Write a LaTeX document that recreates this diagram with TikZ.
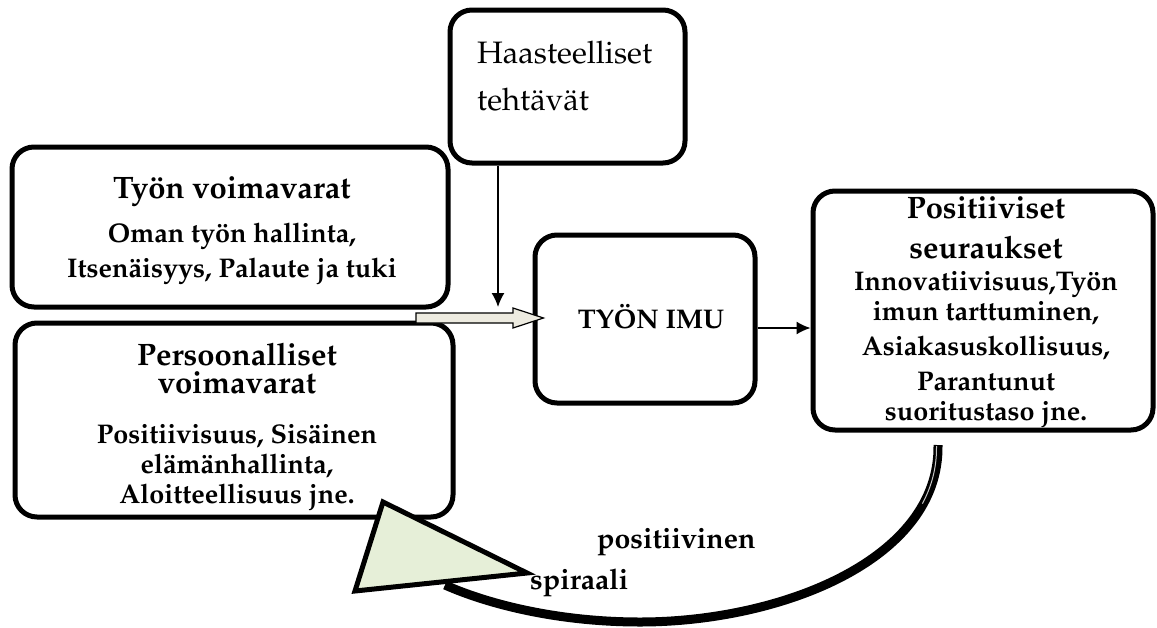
\documentclass[tikz,border=0pt]{standalone}
\usepackage[T1]{fontenc}
\usepackage{mathpazo}
\usetikzlibrary{arrows.meta}
\definecolor{blockfill}{HTML}{EDEBE0}
\definecolor{loopfill}{HTML}{E6EFD8}
\tikzset{
  box/.style={draw, line width=5pt, rounded corners=22pt, fill=white, inner sep=0pt},
  ttl/.style={font=\fontsize{31}{31}\selectfont\bfseries, anchor=base, inner sep=0pt},
  sub/.style={font=\fontsize{27}{27}\selectfont\bfseries, anchor=base, inner sep=0pt},
  plain/.style={font=\fontsize{31}{31}\selectfont, anchor=base west, inner sep=0pt},
  loopword/.style={font=\fontsize{28.5}{28.5}\selectfont\bfseries, anchor=base west, inner sep=0pt},
  thinarrow/.style={line width=1.5pt, -{Latex[length=14pt,width=13pt]}},
}
\begin{document}
\begin{tikzpicture}[x=1pt,y=-1pt]
\useasboundingbox (0,0) rectangle (1157,627);

% boxes
\node[box, minimum width=235pt, minimum height=153pt] (haaste) at (567.5,86.5) {};
\node[box, minimum width=436pt, minimum height=160pt] (tyon) at (230,227) {};
\node[box, minimum width=438pt, minimum height=194pt] (pers) at (234,420) {};
\node[box, minimum width=220pt, minimum height=168pt] (imu) at (645,319) {};
\node[box, minimum width=340pt, minimum height=239pt] (pos) at (983,310.5) {};

% texts
\node[plain] (h1) at (477,63) {Haasteelliset};
\node[plain] (h2) at (477,110) {tehtävät};

\node[ttl] (t1) at (232,198) {Työn voimavarat};
\node[sub] (t2) at (232,242) {Oman työn hallinta,};
\node[sub] (t3) at (232,277) {Itsenäisyys, Palaute ja tuki};

\node[ttl] (p1) at (237,365) {Persoonalliset};
\node[ttl] (p2) at (237,393) {voimavarat};
\node[sub] (p3) at (237,443) {Positiivisuus, Sisäinen};
\node[sub] (p4) at (237,473) {elämänhallinta,};
\node[sub] (p5) at (237,503) {Aloitteellisuus jne.};

\node[font=\fontsize{27}{27}\selectfont\bfseries, anchor=base, inner sep=0pt] (i1) at (651,328) {TYÖN IMU};

\node[ttl] (s1) at (986,218) {Positiiviset};
\node[ttl] (s2) at (986,258) {seuraukset};
\node[sub] (s3) at (986,290) {Innovatiivisuus,Työn};
\node[sub] (s4) at (986,320) {imun tarttuminen,};
\node[sub] (s5) at (986,355) {Asiakasuskollisuus,};
\node[sub] (s6) at (986,390) {Parantunut};
\node[sub] (s7) at (986,420) {suoritustaso jne.};

\node[loopword] (l1) at (597,548) {positiivinen};
\node[loopword] (l2) at (530,589) {spiraali};

% connectors
\coordinate (vtip) at (498,307);
\draw[thinarrow] (vtip |- haaste.south) -- (vtip);

\coordinate (rtip) at (0,328);
\draw[thinarrow] (imu.east |- rtip) -- (pos.west |- rtip);

% block arrow into the work engagement box
\coordinate (bstart) at (416,318);
\coordinate (btip) at ([xshift=11pt]imu.west |- bstart);
\draw[line width=1.2pt, fill=blockfill, line join=miter]
  (bstart |- 0,313) -- (513,313) -- (513,308) -- (btip)
  -- (513,328) -- (513,323) -- (bstart |- 0,323) -- cycle;

% looping arc back to the personal resources
\coordinate (arcstart) at (938,445);
\coordinate (arcend) at (445,585);
\draw[line width=9pt] (arcstart) .. controls (940,560) and (780,622) .. (640,622)
  .. controls (560,622) and (490,605) .. (arcend);
\draw[line width=1pt, gray!45, dash pattern=on 60pt off 3000pt]
  (936.5,446) .. controls (938.5,560) and (780,622) .. (640,622);

% arrow head of the loop
\draw[line width=5pt, line join=miter, fill=loopfill]
  (383,502) -- (355,591) -- (527,573) -- cycle;
\end{tikzpicture}
\end{document}
